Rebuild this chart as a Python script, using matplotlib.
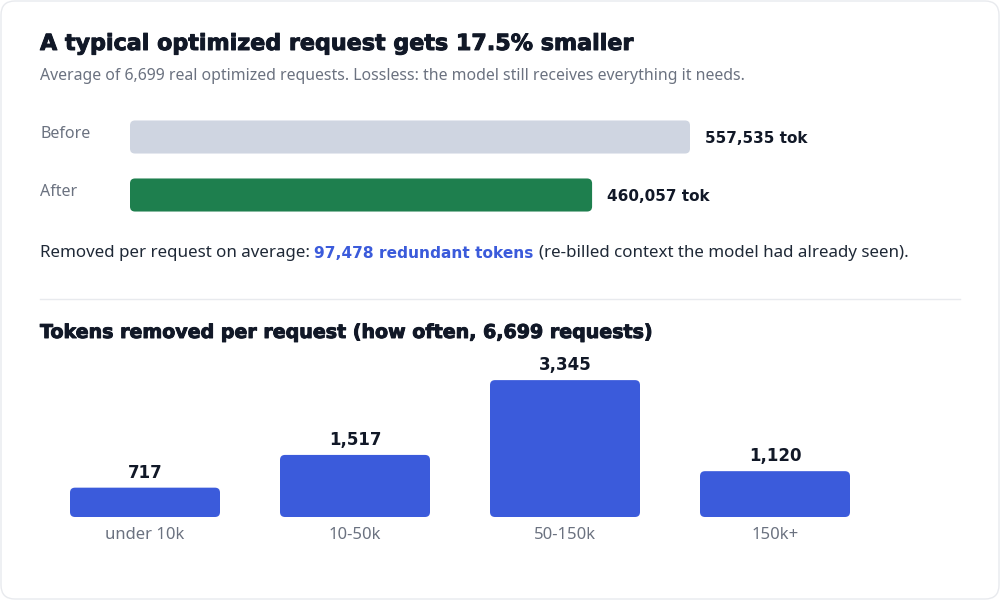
import matplotlib.pyplot as plt
import matplotlib.patheffects as pe
from matplotlib.patches import FancyBboxPatch

W, H = 1000, 600

title = "A typical optimized request gets 17.5% smaller"
subtitle = ("Average of 6,699 real optimized requests. "
            "Lossless: the model still receives everything it needs.")
compare_labels = ["Before", "After"]
compare_tokens = [557535, 460057]
compare_colors = ["#cfd5e1", "#1e7f4e"]
removed_avg = 97478
hist_title = "Tokens removed per request (how often, 6,699 requests)"
bins = ["under 10k", "10-50k", "50-150k", "150k+"]
counts = [717, 1517, 3345, 1120]

BODY = ["Noto Sans", "DejaVu Sans"]
HEAVY = ["DejaVu Sans"]
DARK = "#111827"
GRAY = "#6b7280"
BLUE = "#3b5bdb"
# makes the bold headings a bit heavier
THICK = [pe.withStroke(linewidth=0.7, foreground=DARK)]


def px_box(left, top, width, height):
    # figure-fraction rect from pixel box (top-left origin)
    return [left / W, 1 - (top + height) / H, width / W, height / H]


def round_bars(ax, bars, radius_px, colors):
    pos = ax.get_position()
    x0, x1 = ax.get_xlim()
    y0, y1 = ax.get_ylim()
    ux = abs(x1 - x0) / (pos.width * W)
    uy = abs(y1 - y0) / (pos.height * H)
    for rect, c in zip(bars, colors):
        x, y = rect.get_xy()
        patch = FancyBboxPatch((x, y), rect.get_width(), rect.get_height(),
                               boxstyle=f"round,pad=0,rounding_size={radius_px * ux}",
                               mutation_aspect=uy / ux, fc=c, ec="none")
        ax.add_patch(patch)
        rect.remove()


fig = plt.figure(figsize=(10, 6), dpi=100)
fig.patch.set_facecolor("white")

bg = fig.add_axes([0, 0, 1, 1])
bg.set_xlim(0, W)
bg.set_ylim(H, 0)
bg.axis("off")
bg.add_patch(FancyBboxPatch((1, 1), W - 2, H - 2,
                            boxstyle="round,pad=0,rounding_size=14",
                            fc="white", ec="#e8eaee", lw=1))

bg.text(40, 50, title, family=HEAVY, fontweight="bold", fontsize=16,
        color=DARK, va="baseline", path_effects=THICK)
bg.text(40, 80, subtitle, family=BODY, fontsize=11.4, color=GRAY, va="baseline")

# before / after bars
hax = fig.add_axes(px_box(130, 108, 560, 116))
hax.set_xlim(0, max(compare_tokens))
hax.set_ylim(1.5, -0.5)
hax.axis("off")
hbars = hax.barh(range(len(compare_tokens)), compare_tokens, height=0.57)
round_bars(hax, hbars, 5, compare_colors)
for i, (lab, v) in enumerate(zip(compare_labels, compare_tokens)):
    hax.annotate(lab, xy=(40 / W, i), xycoords=("figure fraction", "data"),
                 xytext=(0, -1), textcoords="offset pixels", va="baseline",
                 family=BODY, fontsize=11.5, color=GRAY)
    hax.annotate(f"{v:,} tok", xy=(v, i), xytext=(15, -6),
                 textcoords="offset pixels", va="baseline", annotation_clip=False,
                 family=HEAVY, fontsize=11, fontweight="bold", color=DARK)

# removed line, three pieces
t1 = bg.text(40, 257, "Removed per request on average: ", family=BODY,
             fontsize=12.2, color="#1f2937", va="baseline")
t2 = bg.annotate(f"{removed_avg:,} redundant tokens", xy=(1, 0), xycoords=t1,
                 va="bottom", family=HEAVY, fontweight="bold", fontsize=11.1,
                 color=BLUE)
bg.annotate("(re-billed context the model had already seen).", xy=(1, 0),
            xycoords=t2, xytext=(5, 0), textcoords="offset pixels",
            va="bottom", family=BODY, fontsize=12.2, color="#1f2937")

bg.axhline(299, xmin=40 / W, xmax=960 / W, color="#e8eaee", lw=1)

bg.text(40, 338, hist_title, family=HEAVY, fontweight="bold", fontsize=13.7,
        color=DARK, va="baseline", path_effects=THICK)

# histogram
vax = fig.add_axes(px_box(40, 350, 840, 167))
vax.set_xlim(-0.5, len(bins) - 0.5)
vax.set_ylim(0, max(counts) * 1.22)
for s in vax.spines.values():
    s.set_visible(False)
vax.set_yticks([])
vax.set_xticks(range(len(bins)))
vax.set_xticklabels(bins, family=BODY, fontsize=12, color=GRAY)
vax.tick_params(axis="x", length=0, pad=7)
vax.patch.set_alpha(0)
vbars = vax.bar(range(len(bins)), counts, width=150 / 210)
round_bars(vax, vbars, 5, [BLUE] * len(bins))
for i, c in enumerate(counts):
    vax.annotate(f"{c:,}", xy=(i, c), xytext=(0, 10), textcoords="offset pixels",
                 ha="center", va="baseline", family=HEAVY, fontsize=12,
                 fontweight="bold", color=DARK)

fig.savefig("out.png", dpi=100)
